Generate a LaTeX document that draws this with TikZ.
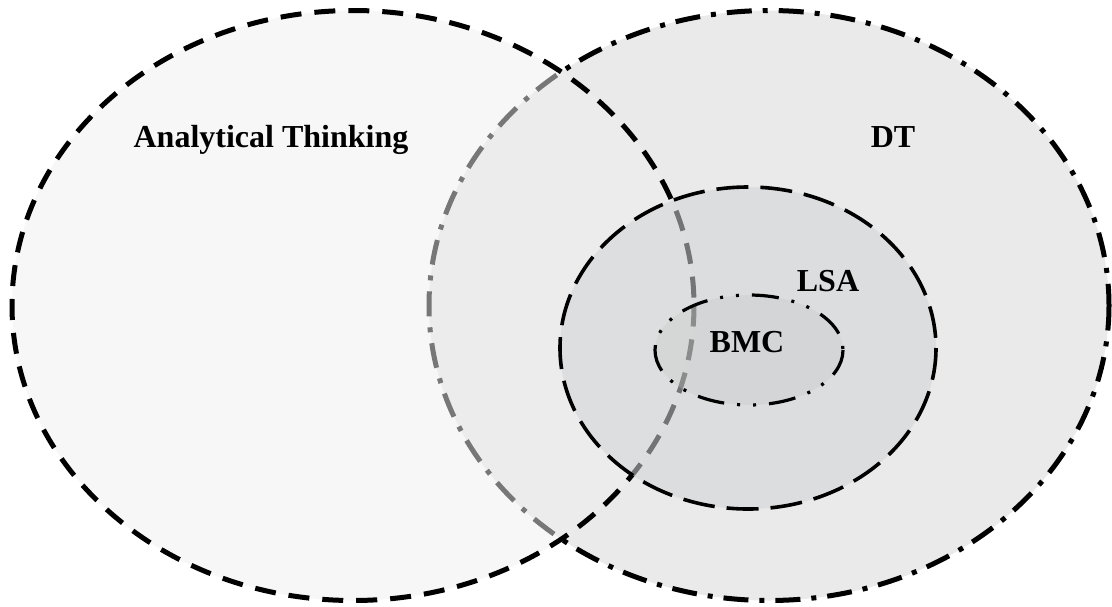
\documentclass[tikz,border=0pt]{standalone}
\usepackage{fontspec}
\setmainfont{Liberation Serif}
\definecolor{dtfill}{HTML}{EAEAEA}
\definecolor{atfill}{HTML}{EFEFEF}
\definecolor{lsafill}{HTML}{D2D4D6}
\definecolor{bmcfill}{HTML}{C4C4C4}
\begin{document}
\begin{tikzpicture}[x=1pt,y=-1pt,
  lbl/.style={font=\fontsize{32}{38}\selectfont\bfseries, text=black, inner sep=0pt, anchor=base},
  atline/.style={line width=5pt, dash pattern=on 21pt off 13pt},
  dtline/.style={line width=5pt, dash pattern=on 25pt off 11pt on 5pt off 11pt},
  lsaline/.style={line width=3.6pt, dash pattern=on 32pt off 12pt},
  bmcline/.style={line width=3.2pt, dash pattern=on 27pt off 13pt on 3pt off 13pt on 3pt off 13pt}]
\useasboundingbox (0,0) rectangle (1112,606);
\coordinate (dtc) at (769,305.5);
\coordinate (atc) at (353,305.5);
\coordinate (lsac) at (748,348);
\coordinate (bmcc) at (749,350);
% DT
\fill[dtfill] (dtc) ellipse [x radius=340, y radius=295];
\draw[dtline] (dtc) ellipse [x radius=340, y radius=295];
% Analytical Thinking
\fill[atfill, fill opacity=0.5] (atc) ellipse [x radius=341, y radius=295];
\draw[atline] (atc) ellipse [x radius=341, y radius=295];
% LSA
\fill[lsafill, fill opacity=0.55] (lsac) ellipse [x radius=188, y radius=161];
\draw[lsaline] (lsac) ellipse [x radius=188, y radius=161];
% BMC
\fill[bmcfill, fill opacity=0.3] (bmcc) ellipse [x radius=94, y radius=55];
\draw[bmcline] (bmcc) ellipse [x radius=94, y radius=55];
% labels
\node[lbl] (atlabel) at (271,147) {Analytical Thinking};
\node[lbl] (dtlabel) at (893,147) {DT};
\node[lbl] (lsalabel) at (828,291) {LSA};
\node[lbl] (bmclabel) at (747,352) {BMC};
\end{tikzpicture}
\end{document}
